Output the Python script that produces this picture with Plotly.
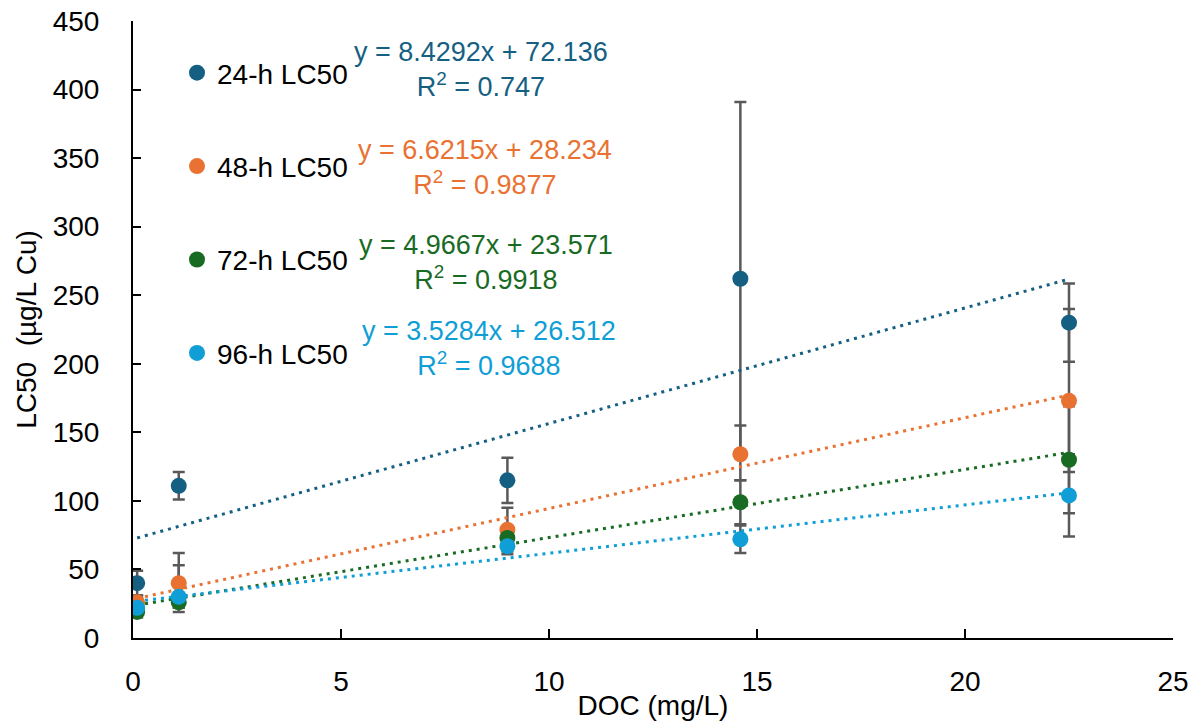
import plotly.graph_objects as go

# DOC concentrations (mg/L)
doc = [0.1, 1.1, 9.0, 14.6, 22.5]

series_names = ["24-h LC50", "48-h LC50", "72-h LC50", "96-h LC50"]

# LC50 values (µg/L Cu)
lc50_24h = [40, 111, 115, 262, 230]
lc50_48h = [26, 40, 79, 134, 173]
lc50_72h = [19, 26, 73, 99, 130]
lc50_96h = [22, 30, 67, 72, 104]

# error bar extents (upper, lower)
err_up_24h = [9, 10, 16.5, 129, 28.5]
err_dn_24h = [9, 10, 16.5, 129, 28.5]
err_up_48h = [5, 22, 16, 21, 67]
err_dn_48h = [5, 21, 18, 19, 52]
err_up_72h = [4, 4, 4, 16, 39]
err_dn_72h = [4, 4, 4, 16, 39]
err_up_96h = [4, 23, 4, 10, 30]
err_dn_96h = [4, 8, 4, 10, 30]

# linear fits: slope, intercept, R²
slopes = [8.4292, 6.6215, 4.9667, 3.5284]
intercepts = [72.136, 28.234, 23.571, 26.512]
r_squared = ["0.747", "0.9877", "0.9918", "0.9688"]

colors = ["#156082", "#E97132", "#196B24", "#0F9ED5"]
values = [lc50_24h, lc50_48h, lc50_72h, lc50_96h]
err_up = [err_up_24h, err_up_48h, err_up_72h, err_up_96h]
err_dn = [err_dn_24h, err_dn_48h, err_dn_72h, err_dn_96h]

FONT = "Liberation Sans"
W, H = 1198, 723
L, R, T, B = 133, 25, 21, 85
pw, ph = W - L - R, H - T - B


def px_to_paper(px, py):
    return (px - L) / pw, (H - B - py) / ph


fig = go.Figure()

# error bars underneath everything
for name, ys, up, dn in zip(series_names, values, err_up, err_dn):
    fig.add_trace(go.Scatter(
        x=doc, y=ys, mode="markers",
        marker=dict(size=1, color="rgba(0,0,0,0)"),
        error_y=dict(type="data", symmetric=False, array=up, arrayminus=dn,
                     color="#595959", thickness=2.5, width=6),
        showlegend=False, hoverinfo="skip",
    ))

# dotted trend lines over the DOC range
x0, x1 = min(doc), max(doc)
for m, b, c in zip(slopes, intercepts, colors):
    fig.add_trace(go.Scatter(
        x=[x0, x1], y=[m * x0 + b, m * x1 + b], mode="lines",
        line=dict(color=c, width=3, dash="3px,5px"),
        showlegend=False, hoverinfo="skip",
    ))

# data points
for i, (name, ys, c) in enumerate(zip(series_names, values, colors)):
    fig.add_trace(go.Scatter(
        x=doc, y=ys, mode="markers", name=name,
        marker=dict(size=16, color=c),
        legendgroup=f"g{i}",
    ))

# regression equations
eq_pos = [(481, 69.5), (485, 167), (486, 262), (489, 348.5)]
for (px, py), m, b, r2, c in zip(eq_pos, slopes, intercepts, r_squared, colors):
    xp, yp = px_to_paper(px, py)
    fig.add_annotation(
        x=xp, y=yp, xref="paper", yref="paper",
        xanchor="center", yanchor="middle", align="center", showarrow=False,
        text=f"y = {m}x + {b}<br>R<sup>2</sup> = {r2}",
        font=dict(family=FONT, size=27, color=c),
    )

lx, ly = px_to_paper(177, 48)
fig.update_layout(
    width=W, height=H,
    margin=dict(l=L, r=R, t=T, b=B, pad=0, autoexpand=False),
    paper_bgcolor="white", plot_bgcolor="white",
    font=dict(family=FONT, size=28, color="#000000"),
    showlegend=True,
    legend=dict(x=lx, y=ly, xanchor="left", yanchor="top",
                bgcolor="rgba(0,0,0,0)", tracegroupgap=54,
                font=dict(family=FONT, size=28, color="#000000")),
    xaxis=dict(
        range=[0, 25], tickvals=[0, 5, 10, 15, 20, 25],
        showgrid=False, zeroline=False, automargin=False,
        showline=True, linecolor="#000000", linewidth=2,
        ticks="inside", ticklen=9, tickwidth=1.5, tickcolor="#000000",
        ticklabelstandoff=17,
        tickfont=dict(family=FONT, size=28, color="#000000"),
        title=dict(text="DOC (mg/L)", standoff=0,
                   font=dict(family=FONT, size=28, color="#000000")),
    ),
    yaxis=dict(
        range=[0, 450], tickvals=list(range(0, 451, 50)),
        showgrid=False, zeroline=False, automargin=False,
        showline=True, linecolor="#000000", linewidth=2,
        ticks="inside", ticklen=8, tickwidth=1.5, tickcolor="#000000",
        ticklabelstandoff=26,
        tickfont=dict(family=FONT, size=28, color="#000000"),
        title=dict(text="LC50  (µg/L Cu)", standoff=8,
                   font=dict(family=FONT, size=28, color="#000000")),
    ),
)

fig.write_html("out.html")
